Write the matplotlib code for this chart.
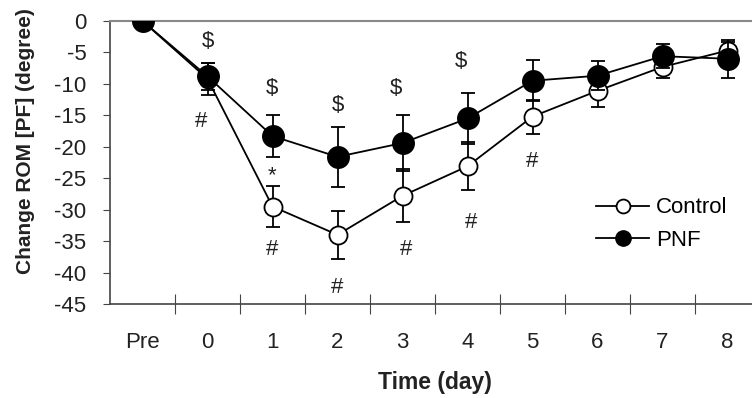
import matplotlib.pyplot as plt
from matplotlib.lines import Line2D

plt.rcParams['font.family'] = ['Liberation Sans', 'DejaVu Sans']
plt.rcParams['axes.unicode_minus'] = False

categories = ['Pre', '0', '1', '2', '3', '4', '5', '6', '7', '8']
control = [0, -9.2, -29.5, -34.0, -27.8, -23.1, -15.2, -11.1, -7.3, -4.7]
control_err = [0, 2.6, 3.2, 3.8, 4.2, 3.8, 2.7, 2.6, 1.7, 1.4]
pnf = [0, -8.8, -18.3, -21.6, -19.4, -15.5, -9.5, -8.7, -5.6, -6.0]
pnf_err = [0, 2.2, 3.4, 4.8, 4.4, 4.1, 3.3, 2.3, 1.9, 3.0]

# significance marks: (category index, y value, symbol)
marks = [
    (1, -3.3, '$'), (2, -10.8, '$'), (3, -13.4, '$'), (3.9, -10.8, '$'), (4.9, -6.5, '$'),
    (0.9, -16.0, '#'), (2, -24.6, '*'), (2, -36.4, '#'), (3, -42.3, '#'),
    (4.05, -36.4, '#'), (5.05, -32.1, '#'), (6, -22.4, '#'),
]

x = list(range(len(categories)))

fig = plt.figure(figsize=(7.52, 3.98), dpi=100)
ax = fig.add_axes([110 / 752, 1 - 304 / 398, 650 / 752, 283 / 398])

ax.errorbar(x, control, yerr=control_err, color='black', lw=1.3, marker='o',
            ms=13, mfc='white', mec='black', mew=1.3, capsize=5, elinewidth=1.3,
            capthick=1.3, zorder=3)
ax.errorbar(x, pnf, yerr=pnf_err, color='black', lw=1.3, marker='o',
            ms=15.5, mfc='black', mec='black', capsize=5, elinewidth=1.3,
            capthick=1.3, zorder=4)

for xi, yi, s in marks:
    ax.text(xi, yi, s, ha='center', va='center', fontsize=16, color='#222222')

ax.set_xlim(-0.5, 9.5)
ax.set_ylim(-45, 0)
ax.set_yticks(range(-45, 1, 5))
ax.tick_params(axis='y', direction='out', length=5, labelsize=16, pad=12,
               color='#444444', labelcolor='#222222')

ax.set_xticks([i + 0.5 for i in x[:-1]])
ax.set_xticklabels([])
ax.set_xticks(x, minor=True)
ax.set_xticklabels(categories, minor=True)
ax.tick_params(axis='x', which='major', direction='inout', length=14, color='#444444')
ax.tick_params(axis='x', which='minor', length=0, labelsize=16, pad=20,
               labelcolor='#222222')

ax.spines['right'].set_visible(False)
ax.spines['top'].set_color('#888888')
ax.spines['top'].set_linewidth(1.5)
ax.spines['left'].set_color('#444444')
ax.spines['bottom'].set_color('#444444')
ax.spines['left'].set_linewidth(1.2)
ax.spines['bottom'].set_linewidth(1.2)

ax.set_xlabel('Time (day)', fontsize=16.5, fontweight='bold', color='#222222')
ax.set_ylabel('Change ROM [PF] (degree)', fontsize=15, fontweight='bold', color='#222222')
ax.xaxis.set_label_coords((435 - 110) / 650, -(371 - 304) / 283)
ax.yaxis.set_label_coords(-(110 - 35) / 650, (304 - 141) / 283)

handles = [
    Line2D([], [], color='black', lw=1.3, marker='o', ms=10, mfc='white', mew=1.3),
    Line2D([], [], color='black', lw=1.3, marker='o', ms=11, mfc='black'),
]
ax.legend(handles, ['Control', 'PNF'], loc='center left',
          bbox_to_anchor=((585 - 110) / 650, (304 - 224) / 283), frameon=False,
          fontsize=16, handlelength=2.4, handletextpad=0.3, labelspacing=0.5,
          borderpad=0)

plt.savefig('out.png', dpi=100)
